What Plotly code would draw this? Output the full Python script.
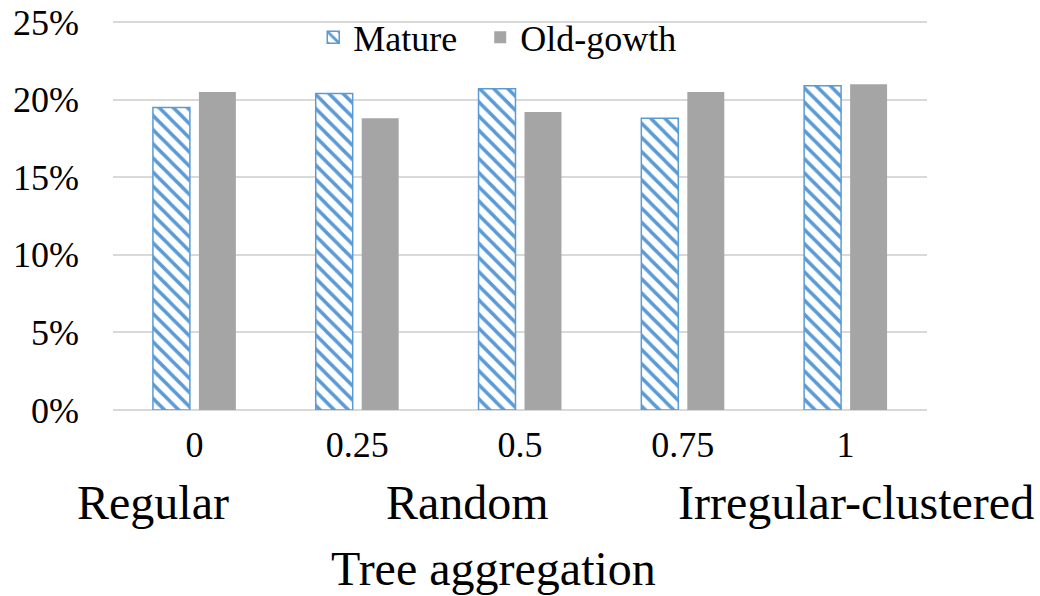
import plotly.graph_objects as go

categories = ["0", "0.25", "0.5", "0.75", "1"]
mature = [0.195, 0.204, 0.207, 0.188, 0.209]
old_growth = [0.205, 0.188, 0.192, 0.205, 0.210]
y_ticks = [0, 0.05, 0.10, 0.15, 0.20, 0.25]
y_ticktext = ["0%", "5%", "10%", "15%", "20%", "25%"]
pattern_labels = ["Regular", "Random", "Irregular-clustered"]
pattern_label_x = [0.049, 0.435, 0.913]

FONT = "Liberation Serif"

fig = go.Figure()
fig.add_trace(go.Bar(
    name="Mature\u00a0\u00a0", x=categories, y=mature,
    marker=dict(color="white",
                line=dict(color="#5B9BD5", width=1.5),
                pattern=dict(shape="\\", fgcolor="#5B9BD5", bgcolor="white",
                             size=10, solidity=0.35, fillmode="replace")),
))
fig.add_trace(go.Bar(
    name="Old-gowth", x=categories, y=old_growth,
    marker=dict(color="#A5A5A5", line=dict(width=0)),
))

for lab, px in zip(pattern_labels, pattern_label_x):
    fig.add_annotation(text=lab, x=px, y=-0.237, xref="paper", yref="paper",
                       showarrow=False, xanchor="center", yanchor="middle",
                       font=dict(family=FONT, size=48, color="black"))
fig.add_annotation(text="Tree aggregation", x=0.467, y=-0.405, xref="paper", yref="paper",
                   showarrow=False, xanchor="center", yanchor="middle",
                   font=dict(family=FONT, size=48, color="black"))

fig.update_layout(
    width=1040, height=596,
    margin=dict(l=113, r=113, t=19, b=186, autoexpand=False),
    paper_bgcolor="white", plot_bgcolor="white",
    barmode="group", bargap=0.435, bargroupgap=0.196,
    font=dict(family=FONT, size=36, color="black"),
    showlegend=True,
    legend=dict(orientation="h", x=0.246, y=0.953, xanchor="left", yanchor="middle",
                font=dict(family=FONT, size=36, color="black"),
                bgcolor="rgba(0,0,0,0)", itemwidth=30),
    xaxis=dict(showgrid=False, showline=False, ticks="", zeroline=False,
               tickfont=dict(family=FONT, size=36), ticklabelstandoff=10,
               automargin=False),
    yaxis=dict(range=[0, 0.252], tickvals=y_ticks, ticktext=y_ticktext,
               showgrid=True, gridcolor="#D9D9D9", gridwidth=1.5,
               zeroline=True, zerolinecolor="#D9D9D9", zerolinewidth=1.5,
               showline=False, ticks="", tickfont=dict(family=FONT, size=36),
               ticklabelstandoff=33, automargin=False),
)

fig.write_html("out.html")
